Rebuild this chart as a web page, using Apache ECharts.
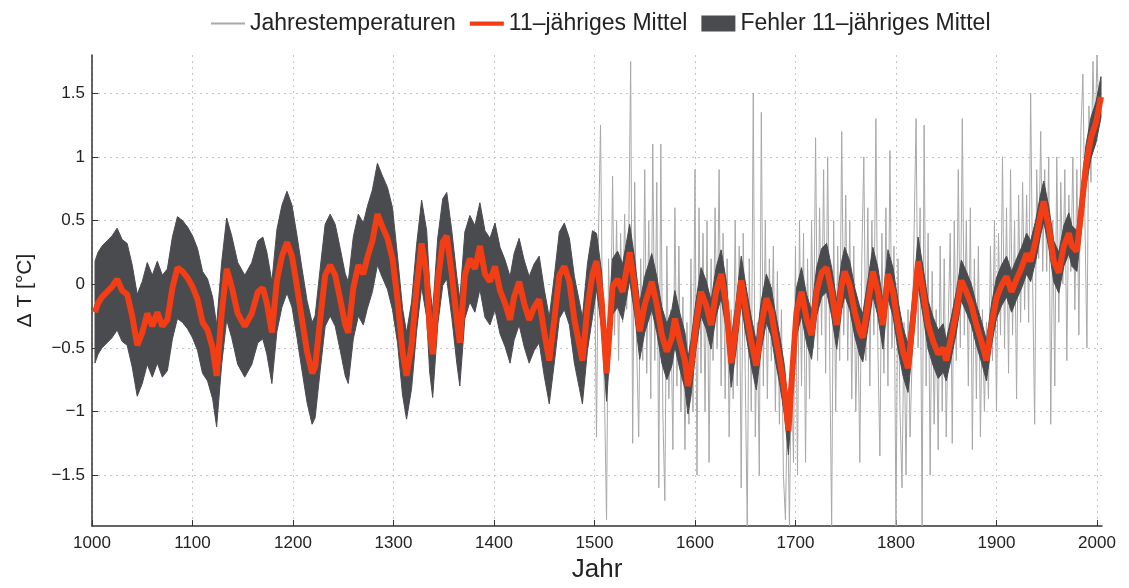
<!DOCTYPE html>
<html lang="de">
<head>
  <meta charset="UTF-8">
  <title>Temperatur 1000-2004</title>
  <style>
    html, body { margin: 0; padding: 0; background: #fff; }
    #chart { width: 1129px; height: 588px; }
  </style>
</head>
<body>
  <div id="chart"></div>
  <script src="https://cdn.jsdelivr.net/npm/echarts@6/dist/echarts.min.js"></script>
  <script>
    // Achsen
    const xTicks = [1000, 1100, 1200, 1300, 1400, 1500, 1600, 1700, 1800, 1900, 2000]
    const yTicks = [-1.5, -1, -0.5, 0, 0.5, 1, 1.5]

    // 11-jaehriges Mittel [Jahr, dT]
    const mittel = [
      [1003,-0.22],[1006,-0.15],[1010,-0.10],[1015,-0.06],[1020,-0.02],[1025,0.04],[1030,-0.05],[1035,-0.08],
      [1040,-0.25],[1045,-0.48],[1050,-0.38],[1055,-0.23],[1060,-0.33],[1065,-0.22],[1070,-0.33],[1075,-0.28],
      [1080,-0.03],[1085,0.13],[1090,0.10],[1095,0.05],[1100,-0.02],[1105,-0.12],[1110,-0.30],[1115,-0.36],
      [1120,-0.50],[1124,-0.72],[1129,-0.23],[1134,0.12],[1139,-0.02],[1145,-0.23],[1152,-0.33],[1159,-0.23],
      [1165,-0.06],[1170,-0.03],[1174,-0.15],[1179,-0.38],[1184,0.03],[1189,0.22],[1194,0.33],[1199,0.22],
      [1204,-0.02],[1209,-0.28],[1214,-0.53],[1219,-0.70],[1222,-0.65],[1227,-0.28],[1232,0.07],[1237,0.15],
      [1242,0.07],[1247,-0.12],[1252,-0.32],[1255,-0.38],[1260,-0.03],[1265,0.15],[1270,0.08],[1274,0.21],
      [1279,0.34],[1284,0.55],[1289,0.45],[1294,0.36],[1299,0.20],[1304,-0.12],[1309,-0.53],[1313,-0.72],
      [1318,-0.48],[1323,-0.03],[1328,0.32],[1333,0.08],[1336,-0.35],[1339,-0.55],[1344,0.02],[1349,0.33],
      [1353,0.38],[1358,0.08],[1363,-0.28],[1366,-0.46],[1371,0.07],[1376,0.20],[1381,0.12],[1386,0.30],
      [1391,0.08],[1396,0.02],[1401,0.14],[1406,-0.05],[1411,-0.15],[1416,-0.28],[1420,-0.10],[1425,0.02],
      [1430,-0.15],[1435,-0.28],[1440,-0.18],[1445,-0.12],[1450,-0.38],[1455,-0.60],[1460,-0.28],[1465,0.07],
      [1470,0.14],[1475,0.02],[1480,-0.28],[1485,-0.48],[1488,-0.60],[1493,-0.18],[1498,0.08],[1502,0.18],
      [1507,-0.12],[1512,-0.70],[1518,-0.02],[1523,0.04],[1528,-0.06],[1535,0.25],[1540,-0.02],[1545,-0.37],
      [1550,-0.16],[1557,0.02],[1562,-0.16],[1567,-0.40],[1572,-0.53],[1577,-0.42],[1580,-0.27],[1585,-0.45],
      [1590,-0.60],[1593,-0.80],[1596,-0.66],[1601,-0.32],[1606,-0.06],[1611,-0.16],[1616,-0.32],[1621,-0.06],
      [1626,0.08],[1631,-0.16],[1636,-0.62],[1641,-0.32],[1646,0.03],[1651,-0.22],[1656,-0.45],[1661,-0.64],
      [1666,-0.32],[1671,-0.11],[1676,-0.22],[1679,-0.37],[1684,-0.58],[1689,-0.83],[1693,-1.15],[1696,-0.78],
      [1701,-0.22],[1706,-0.06],[1711,-0.27],[1716,-0.40],[1721,-0.06],[1726,0.09],[1731,0.13],[1736,-0.06],
      [1741,-0.32],[1746,-0.01],[1749,0.10],[1754,-0.01],[1759,-0.22],[1764,-0.37],[1767,-0.42],[1772,-0.16],
      [1777,0.10],[1782,-0.06],[1787,-0.32],[1792,0.08],[1797,-0.06],[1802,-0.32],[1807,-0.53],[1812,-0.66],
      [1817,-0.27],[1822,0.18],[1827,-0.06],[1832,-0.32],[1837,-0.45],[1842,-0.55],[1847,-0.50],[1850,-0.60],
      [1855,-0.42],[1860,-0.22],[1865,0.03],[1870,-0.06],[1875,-0.16],[1880,-0.32],[1885,-0.45],[1890,-0.60],
      [1895,-0.32],[1900,-0.11],[1905,-0.01],[1910,0.06],[1915,-0.06],[1920,0.04],[1925,0.13],[1930,0.24],
      [1934,0.18],[1939,0.34],[1944,0.55],[1947,0.65],[1952,0.45],[1957,0.18],[1962,0.09],[1967,0.30],
      [1972,0.40],[1975,0.30],[1980,0.26],[1984,0.55],[1989,0.93],[1994,1.15],[1999,1.27],[2004,1.47]
    ]

    // halbe Breite des Fehlerbandes, ab dem jeweiligen Jahr
    const fehlerAb = [1000, 1300, 1500, 1600, 1850]
    const fehlerHalb = [0.40, 0.34, 0.22, 0.19, 0.16]

    // Jahrestemperaturen ab 1500, jedes zweite Jahr
    const jahrStart = 1500
    const jahrSchritt = 2
    const jahreswerte = [
      0.3, -1.2, 0.4, 1.25, -0.3,   -0.9, -1.85, 0.2, -0.5, 0.85,
      -0.4, 0.5, -0.6, 0.4, -0.3,   0.55, -0.2, 0.3, 1.75, -1.25,
      0.8, -0.5, -1.2, 0.2, -0.6,   0.9, -0.7, 0.5, -0.9, 1.1,
      -0.6, 0.8, -1.6, 1.1, -1.0,   -1.7, 0.3, -0.9, -0.2, -1.3,
      0.6, -0.8, 0.3, -1.0, -0.1,   -1.3, -0.3, -1.1, 0.2, -1.0,
      0.9, -1.5, 0.6, -0.7, 0.4,    -1.0, 0.5, -1.4, 0.2, -0.6,
      0.6, -0.5, 0.9, -0.8, 0.4,    -0.9, 0.2, -1.2, -0.2, -0.9,
      0.5, -0.8, 0.3, -1.6, 0.4,    -0.7, -1.9, 0.2, -1.0, 1.5,
      -1.2, -0.3, -1.5, 1.35, -0.8, 0.5, -0.9, 0.2, -0.6, 0.3,
      -1.0, 0.1, -1.1, -0.2, -1.5,  -1.85, -0.9, -1.9, -0.6, -1.4,
      0.3, -1.5, 0.5, -0.8, 0.4,    -1.4, 0.2, -0.9, 0.5, -0.5,
      1.15, -0.6, 0.6, -0.4, 0.9,   -0.7, 1.0, -0.5, -1.9, 0.5,
      -1.0, 0.3, -0.6, 1.2, -0.4,   0.7, -0.6, 0.5, -0.9, 0.3,
      -1.0, -0.2, -1.4, 0.2, 1.0,   -0.6, 0.6, -0.8, 0.5, -0.4,
      1.3, -0.5, -1.35, 0.4, -0.7,  0.6, -0.8, 1.05, -0.5, 0.3,
      -1.9, 0.2, -1.0, -1.6, -0.3,  -1.5, -0.2, -1.2, -0.6, 0.4,
      1.3, -0.5, 0.6, -1.9, 1.25,   -0.8, 0.4, -1.5, 0.1, -1.1,
      -0.2, -1.3, 0.3, -1.0, 0.2,   -1.2, -0.3, 0.4, -1.25, 0.5,
      -0.6, 0.9, -0.5, 1.3, -0.4,   0.5, -0.8, 0.6, -1.3, 0.2,
      -0.9, 0.3, -1.2, -0.2, -1.0,  -0.3, -0.9, 0.3, -0.6, 0.5,
      -1.0, 0.4, -0.4, 1.0, -0.5,   0.6, -0.7, 0.9, -0.4, 0.5,
      -0.9, 0.7, -0.3, 0.8, -0.2,   0.7, -0.3, 1.5, 0.0, -1.1,
      0.9, 0.2, 1.2, 0.1, 0.9,      0.1, 1.0, -1.1, 0.5, -0.8,
      1.0, -0.3, 0.8, 0.0, 0.9,     -0.6, 0.7, 0.1, 1.0, -0.2,
      0.9, -0.4, 1.2, 1.65, 0.5,    -0.5, 1.4, 0.8, 1.75, 1.1,
      1.8, 1.3, 1.6
    ]

    const jahresDaten = jahreswerte.map((v, i) => [jahrStart + i * jahrSchritt, v])

    function halbBreite(jahr) {
      let h = fehlerHalb[0]
      for (let i = 0; i < fehlerAb.length; i++) {
        if (jahr >= fehlerAb[i]) h = fehlerHalb[i]
      }
      return h
    }
    const bandOben = mittel.map(p => [p[0], p[1] + halbBreite(p[0])])
    const bandUnten = mittel.map(p => [p[0], p[1] - halbBreite(p[0])])

    const GRAU = '#a8a8a8'
    const ROT = '#f23d15'
    const BAND = '#4a4b4f'
    const schrift = 'Liberation Sans, Arial, sans-serif'
    const jahrText = v => String(v)
    const minus = v => String(v).replace('-', '\u2212')

    // Fehlerband als ein Polygon: oben hin, unten zurueck
    function bandZeichnen(params, api) {
      const punkte = bandOben.map(p => api.coord(p))
        .concat(bandUnten.slice().reverse().map(p => api.coord(p)))
      return {
        type: 'polygon',
        shape: { points: punkte },
        style: { fill: BAND, stroke: BAND, lineWidth: 1 }
      }
    }

    const chart = echarts.init(document.getElementById('chart'))
    chart.setOption({
      animation: false,
      backgroundColor: '#fff',
      legend: {
        left: 206,
        top: 7,
        itemWidth: 34,
        itemHeight: 16,
        itemGap: 14,
        textStyle: { fontFamily: schrift, fontSize: 23, color: '#222' },
        data: [
          { name: 'Jahrestemperaturen', icon: 'path://M0,0H40V2.5H0Z' },
          { name: '11–jähriges Mittel', icon: 'path://M0,0H40V5H0Z' },
          { name: 'Fehler 11–jähriges Mittel', icon: 'rect' }
        ]
      },
      grid: { left: 92, right: 27, top: 55, bottom: 56 },
      xAxis: {
        type: 'value',
        min: 1000,
        max: 2005,
        name: 'Jahr',
        nameLocation: 'middle',
        nameGap: 28,
        nameTextStyle: { fontFamily: schrift, fontSize: 26, color: '#222' },
        axisLine: { onZero: false, lineStyle: { color: '#333', width: 1.5 } },
        axisTick: { inside: true, length: 6, customValues: xTicks, lineStyle: { color: '#333' } },
        axisLabel: { customValues: xTicks, margin: 9, formatter: jahrText, fontFamily: schrift, fontSize: 17, color: '#222' },
        splitLine: { show: true, customValues: xTicks, lineStyle: { color: '#c4c4c4', type: [2, 4], width: 1 } }
      },
      yAxis: {
        type: 'value',
        min: -1.9,
        max: 1.8,
        name: 'Δ T [°C]',
        nameLocation: 'middle',
        nameGap: 56,
        nameRotate: 90,
        nameTextStyle: { fontFamily: schrift, fontSize: 21, color: '#222' },
        axisLine: { show: true, onZero: false, lineStyle: { color: '#333', width: 1.5 } },
        axisTick: { show: true, inside: true, length: 6, customValues: yTicks, lineStyle: { color: '#333' } },
        axisLabel: { customValues: yTicks, margin: 7, formatter: minus, fontFamily: schrift, fontSize: 17, color: '#222' },
        splitLine: { show: true, customValues: yTicks, lineStyle: { color: '#c4c4c4', type: [2, 4], width: 1 } }
      },
      series: [
        {
          name: 'Jahrestemperaturen',
          type: 'line',
          z: 1,
          data: jahresDaten,
          color: GRAU,
          showSymbol: false,
          itemStyle: { color: GRAU },
          lineStyle: { color: GRAU, width: 1 },
          silent: true
        },
        {
          name: 'Fehler 11–jähriges Mittel',
          type: 'custom',
          z: 3,
          data: [mittel[0]],
          color: BAND,
          itemStyle: { color: BAND },
          renderItem: bandZeichnen,
          silent: true
        },
        {
          name: '11–jähriges Mittel',
          type: 'line',
          z: 5,
          data: mittel,
          color: ROT,
          showSymbol: false,
          itemStyle: { color: ROT },
          lineStyle: { color: ROT, width: 6 },
          silent: true
        }
      ]
    })
  </script>
</body>
</html>
